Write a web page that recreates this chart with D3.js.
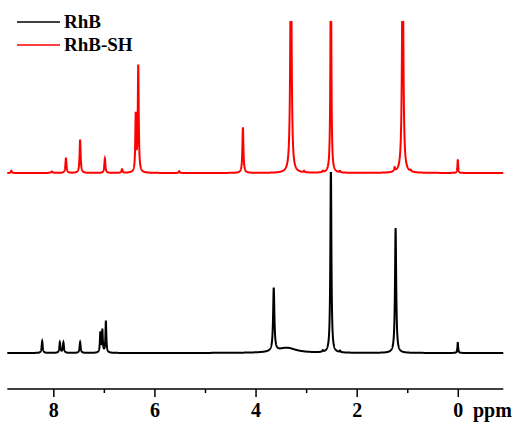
<!DOCTYPE html>
<html>
<head>
<meta charset="utf-8">
<script src="https://cdn.jsdelivr.net/npm/d3@7"></script>
<style>
  body { margin: 0; background: #fff; }
  svg text { font-family: "Liberation Serif", "Times New Roman", serif; font-weight: bold; }
</style>
</head>
<body>
<div id="chart"></div>
<script>
// peak tables: shift (ppm), height (trace units, 100 = full offset), half width (ppm)
const rhbShift  = [8.22, 7.87, 7.80, 7.47, 7.07, 7.03, 6.96, 3.64, 3.38, 2.67, 2.51, 2.33, 1.23, 0.00];
const rhbHeight = [6.6,  5.8,  5.8,  6.0,  11,   12.5, 17.5, 35,   2.8,  0.8,  104,  0.8,  69,   6.0];
const rhbWidth  = [0.012,0.012,0.012,0.012,0.010,0.010,0.010,0.015,0.22, 0.01, 0.012,0.01, 0.014,0.008];

const shShift  = [8.83, 8.03, 7.75, 7.47, 6.98, 6.64, 6.37, 6.32, 5.51, 4.25, 3.30, 3.04, 2.67, 2.51, 2.33, 1.25, 1.09, 0.93, 0.00];
const shHeight = [1.5,  0.9,  10,   22,   9.5,  2.4,  37,   70,   1.2,  30,   160,  0.9,  0.9,  160,  0.9,  2.5,  160,  0.8,  9.0];
const shWidth  = [0.012,0.02, 0.012,0.012,0.012,0.012,0.010,0.011,0.01, 0.012,0.015,0.01, 0.01, 0.010,0.01, 0.012,0.015,0.01, 0.008];

const tickMajor = [8, 6, 4, 2, 0];
const tickMinor = [7, 5, 3, 1];
const seriesNames = ["RhB", "RhB-SH"];
const seriesColors = ["#000000", "#ff0000"];

const width = 516, height = 422;

const x = d3.scaleLinear().domain([8.91, -0.90]).range([7.3, 503.3]);
const yBlack = d3.scaleLinear().domain([0, 100]).range([353, 172]);
const yRed = d3.scaleLinear().domain([0, 100]).range([173, 21]);

function spectrum(shift, h, w) {
  const pts = [];
  for (let p = 8.91; p >= -0.90; p -= 0.002) {
    let v = 0;
    for (let i = 0; i < shift.length; i++) {
      const d = p - shift[i];
      v += h[i] * w[i] * w[i] / (w[i] * w[i] + d * d);
    }
    pts.push([p, v]);
  }
  return pts;
}

const svg = d3.select("#chart").append("svg")
  .attr("width", width)
  .attr("height", height);

const defs = svg.append("defs");
defs.append("clipPath").attr("id", "clipRed")
  .append("rect").attr("x", 0).attr("y", 21).attr("width", width).attr("height", 200);
defs.append("clipPath").attr("id", "clipBlack")
  .append("rect").attr("x", 0).attr("y", 172).attr("width", width).attr("height", 200);

svg.append("path")
  .datum(spectrum(rhbShift, rhbHeight, rhbWidth))
  .attr("clip-path", "url(#clipBlack)")
  .attr("fill", "none")
  .attr("stroke", seriesColors[0])
  .attr("stroke-width", 2)
  .attr("d", d3.line().x(d => x(d[0])).y(d => yBlack(d[1])));

svg.append("path")
  .datum(spectrum(shShift, shHeight, shWidth))
  .attr("clip-path", "url(#clipRed)")
  .attr("fill", "none")
  .attr("stroke", seriesColors[1])
  .attr("stroke-width", 2)
  .attr("d", d3.line().x(d => x(d[0])).y(d => yRed(d[1])));

// x axis
const axisY = 389;
svg.append("line")
  .attr("x1", x.range()[0]).attr("x2", x.range()[1])
  .attr("y1", axisY).attr("y2", axisY)
  .attr("stroke", "#000").attr("stroke-width", 1.5);

const gMaj = svg.append("g")
  .attr("transform", `translate(0, ${axisY})`)
  .call(d3.axisBottom(x).tickValues(tickMajor).tickSize(8).tickPadding(6).tickFormat(d3.format("d")));
gMaj.select(".domain").remove();
gMaj.selectAll("line").attr("stroke-width", 1.5);
gMaj.selectAll("text").attr("font-size", 20).attr("font-family", null);

const gMin = svg.append("g")
  .attr("transform", `translate(0, ${axisY})`)
  .call(d3.axisBottom(x).tickValues(tickMinor).tickSize(4).tickFormat(""));
gMin.select(".domain").remove();
gMin.selectAll("line").attr("stroke-width", 1.5);

svg.append("text")
  .attr("x", 473).attr("y", 417)
  .attr("font-size", 20)
  .text("ppm");

// legend
const legend = svg.append("g");
seriesNames.forEach((name, i) => {
  const ly = 22 + i * 23;
  legend.append("line")
    .attr("x1", 17).attr("x2", 60)
    .attr("y1", ly).attr("y2", ly)
    .attr("stroke", seriesColors[i]).attr("stroke-width", 1.5);
  legend.append("text")
    .attr("x", 64).attr("y", ly + 6)
    .attr("font-size", 19)
    .text(name);
});
</script>
</body>
</html>
